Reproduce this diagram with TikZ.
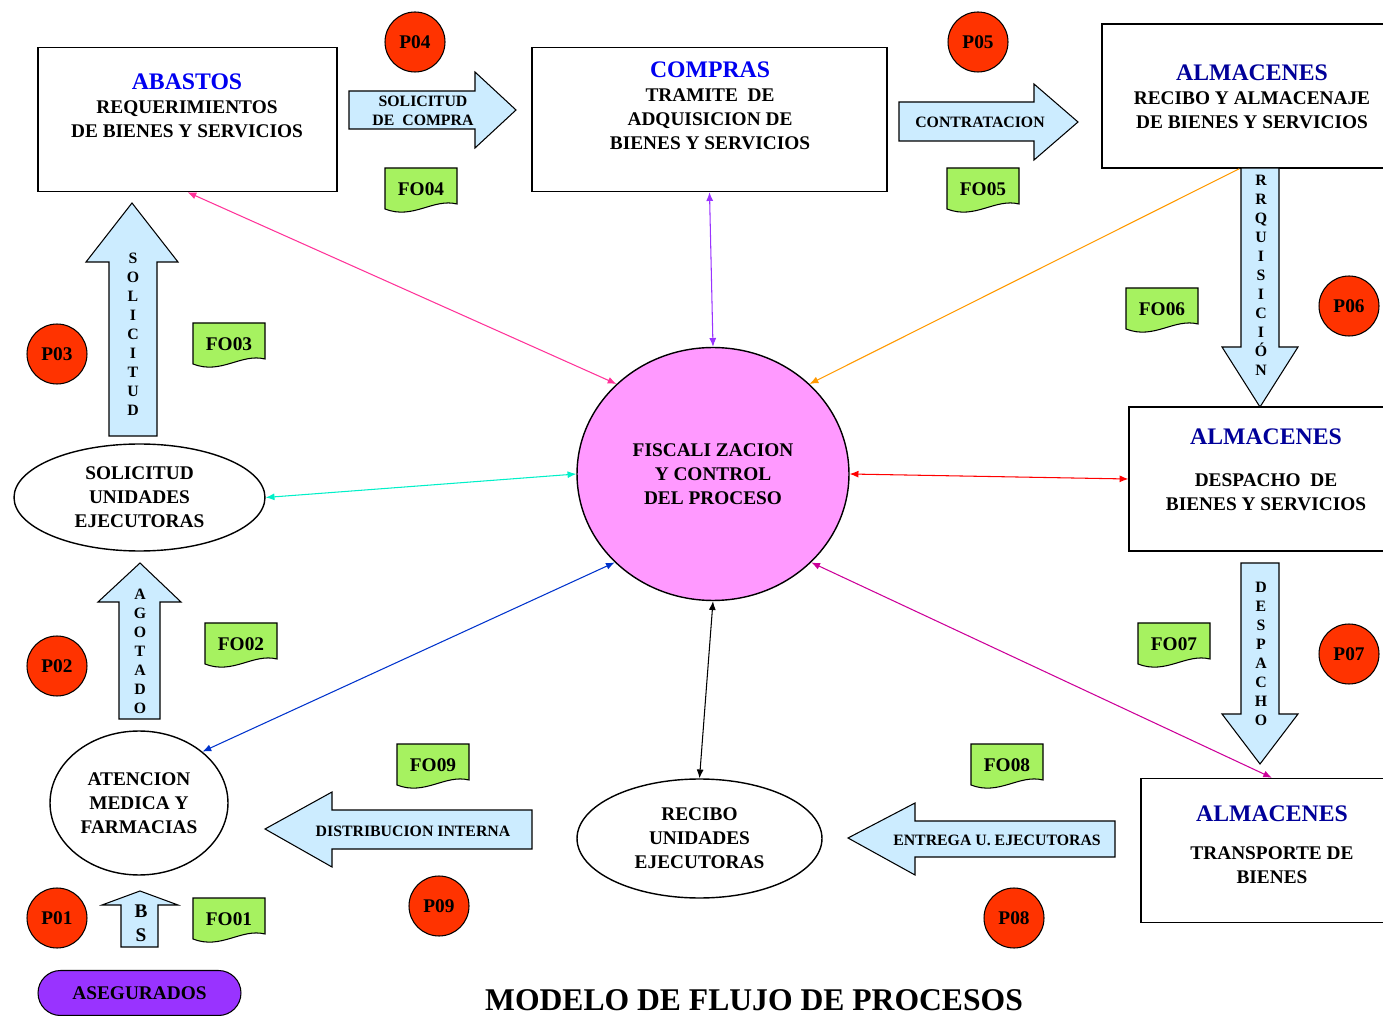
\documentclass[tikz,border=0pt]{standalone}
\usepackage{fontspec}
\setmainfont{Liberation Serif}
\usetikzlibrary{arrows.meta,shapes.geometric,calc}
\definecolor{pred}{RGB}{255,51,0}
\definecolor{fogreen}{RGB}{166,242,96}
\definecolor{arrblue}{RGB}{204,236,255}
\definecolor{hblue}{RGB}{0,0,240}
\definecolor{hnavy}{RGB}{0,0,153}
\definecolor{aseg}{RGB}{153,51,255}
\definecolor{fisccol}{RGB}{255,153,255}
\definecolor{lpink}{RGB}{255,51,153}
\definecolor{lpurple}{RGB}{153,51,255}
\definecolor{lorange}{RGB}{255,153,0}
\definecolor{lcyan}{RGB}{0,240,200}
\definecolor{lblue}{RGB}{0,51,204}
\definecolor{lmag}{RGB}{204,0,153}

\begin{document}
\begin{tikzpicture}[
    x=0.02cm, y=-0.02cm,
    font=\bfseries\fontsize{11}{13.7}\selectfont,
    box/.style={draw, line width=0.8pt, minimum width=#1, minimum height=2.88cm},
    boxtxt/.style={align=center, inner sep=0pt},
    oval/.style={ellipse, draw, line width=0.8pt, inner sep=0pt, align=center},
    pcirc/.style={circle, draw, line width=0.6pt, fill=pred, minimum size=1.2cm, inner sep=0pt},
    fodoc/.style={draw, line width=0.6pt, fill=fogreen},
    blkarrow/.style={draw, line width=0.6pt, fill=arrblue},
    arrtxt/.style={align=center, inner sep=0pt, font=\bfseries\fontsize{9}{10.8}\selectfont},
    con/.style={{Latex[length=5pt,width=4pt]}-{Latex[length=5pt,width=4pt]}, line width=0.6pt}
]
\useasboundingbox (0,0) rectangle (1383,1016);

% cajas
\node[box=5.98cm] (abastos) at (187.5,119.5) {};
\node[boxtxt] (abastos-t) at (187,106) {{\color{hblue}\fontsize{13.5}{15}\selectfont ABASTOS}\\REQUERIMIENTOS\\DE BIENES Y SERVICIOS};
\node[box=7.1cm] (compras) at (709.5,119.5) {};
\node[boxtxt] (compras-t) at (710,106) {{\color{hblue}\fontsize{13.5}{15}\selectfont COMPRAS}\\TRAMITE~ DE\\ADQUISICION DE\\BIENES Y SERVICIOS};
\node[box=6cm] (alm1) at (1252,96) {};
\node[boxtxt] (alm1-t) at (1252,97) {{\color{hnavy}\fontsize{13.5}{15}\selectfont ALMACENES}\\RECIBO Y ALMACENAJE\\DE BIENES Y SERVICIOS};
\node[box=5.48cm] (alm2) at (1266,479) {};
\node[boxtxt] (alm2-t) at (1266,470) {{\color{hnavy}\fontsize{13.5}{15}\selectfont ALMACENES}\\[10pt]DESPACHO~ DE\\BIENES Y SERVICIOS};
\node[box=5.24cm] (alm3) at (1272,850.5) {};
\node[boxtxt] (alm3-t) at (1272,845) {{\color{hnavy}\fontsize{13.5}{15}\selectfont ALMACENES}\\[8pt]TRANSPORTE DE\\BIENES};

% centro y elipses
\node[oval, fill=fisccol, minimum width=5.44cm, minimum height=5.06cm] (fisc) at (713,474) {FISCALI ZACION\\Y CONTROL\\DEL PROCESO};
\node[oval, minimum width=5.02cm, minimum height=2.14cm] (sol) at (139.5,497.5) {SOLICITUD\\UNIDADES\\EJECUTORAS};
\node[oval, minimum width=3.56cm, minimum height=2.88cm] (atencion) at (139,803) {ATENCION\\MEDICA Y\\FARMACIAS};
\node[oval, minimum width=4.9cm, minimum height=2.38cm] (recibo) at (699.5,838.5) {RECIBO\\UNIDADES\\EJECUTORAS};
\node[draw, line width=0.6pt, fill=aseg, rounded corners=0.45cm, minimum width=4.06cm, minimum height=0.9cm] (aseg) at (139.5,993) {ASEGURADOS};

% flechas de bloque
\draw[blkarrow] (349,91) -- (475,91) -- (475,72) -- (516,110) -- (475,148) -- (475,129) -- (349,129) -- cycle;
\node[arrtxt] (solcompra) at (423,111) {SOLICITUD\\DE\ \ COMPRA};
\draw[blkarrow] (899,102) -- (1034,102) -- (1034,84) -- (1078,122) -- (1034,160) -- (1034,141) -- (899,141) -- cycle;
\node[arrtxt] (contrat) at (980,122) {CONTRATACION};
\draw[blkarrow] (1241,168) -- (1279,168) -- (1279,347) -- (1298,347) -- (1260,407) -- (1222,347) -- (1241,347) -- cycle;
\node[arrtxt] (requis) at (1261,275) {R\\R\\Q\\U\\I\\S\\I\\C\\I\\Ó\\N};
\draw[blkarrow] (1241,563) -- (1279,563) -- (1279,714) -- (1298,714) -- (1260,764) -- (1222,714) -- (1241,714) -- cycle;
\node[arrtxt] (despacho) at (1261,654) {D\\E\\S\\P\\A\\C\\H\\O};
\draw[blkarrow] (109,436) -- (109,262) -- (86,262) -- (132,203) -- (178,262) -- (157,262) -- (157,436) -- cycle;
\node[arrtxt] (solicitud) at (133,334) {S\\O\\L\\I\\C\\I\\T\\U\\D};
\draw[blkarrow] (119,719) -- (119,602) -- (98,602) -- (140,563) -- (181,602) -- (160,602) -- (160,719) -- cycle;
\node[arrtxt] (agotado) at (140,651) {A\\G\\O\\T\\A\\D\\O};
\draw[blkarrow] (121,947) -- (121,905) -- (102,905) -- (140,891) -- (178,905) -- (158,905) -- (158,947) -- cycle;
\node[arrtxt, font=\bfseries\fontsize{11}{13.6}\selectfont] (bs) at (141,923) {B\\S};
\draw[blkarrow] (532,810) -- (332,810) -- (332,792) -- (265,829) -- (332,867) -- (332,849) -- (532,849) -- cycle;
\node[arrtxt] (distrib) at (413,831) {DISTRIBUCION INTERNA};
\draw[blkarrow] (1115,821) -- (915,821) -- (915,803) -- (848,838) -- (915,875) -- (915,857) -- (1115,857) -- cycle;
\node[arrtxt] (entrega) at (997,840) {ENTREGA U. EJECUTORAS};

% procesos y formatos
\foreach \k/\cx/\cy in {04/415/42, 05/978/42, 03/57/354, 06/1349/306, 02/57/666, 07/1349/654, 01/57/918, 09/439/906, 08/1014/918}
  \node[pcirc] (p\k) at (\cx,\cy) {P\k};
\foreach \k/\cx/\cy in {04/421/190, 05/983/190, 03/229/345, 06/1162/310, 02/241/645, 07/1174/645, 09/433/766, 08/1007/766, 01/229/920} {
  \draw[fodoc] (\cx-36,\cy-22) -- (\cx+36,\cy-22) -- (\cx+36,\cy+14) .. controls (\cx+12,\cy+8) and (\cx-8,\cy+30) .. (\cx-36,\cy+19) -- cycle;
  \node[inner sep=0pt] (fo\k) at (\cx,\cy-1) {FO\k};
}

% conectores
\draw[con, lpink] (abastos.south) -- (fisc.137);
\draw[con, lpurple] (compras.south) -- (fisc.north);
\draw[-{Latex[length=5pt,width=4pt]}, line width=0.6pt, lorange] ($(alm1.south west)+(138,0)$) -- (fisc.43);
\draw[con, lcyan] (sol.east) -- (fisc.west);
\draw[con, red] (fisc.east) -- (alm2.west);
\draw[con, lblue] (atencion.39) -- (fisc.222);
\draw[con] (fisc.south) -- (recibo.north);
\draw[con, lmag] (fisc.-42) -- (alm3.north);

\node[font=\bfseries\fontsize{18}{21}\selectfont] (titulo) at (754,1000) {MODELO DE FLUJO DE PROCESOS};
\end{tikzpicture}
\end{document}
